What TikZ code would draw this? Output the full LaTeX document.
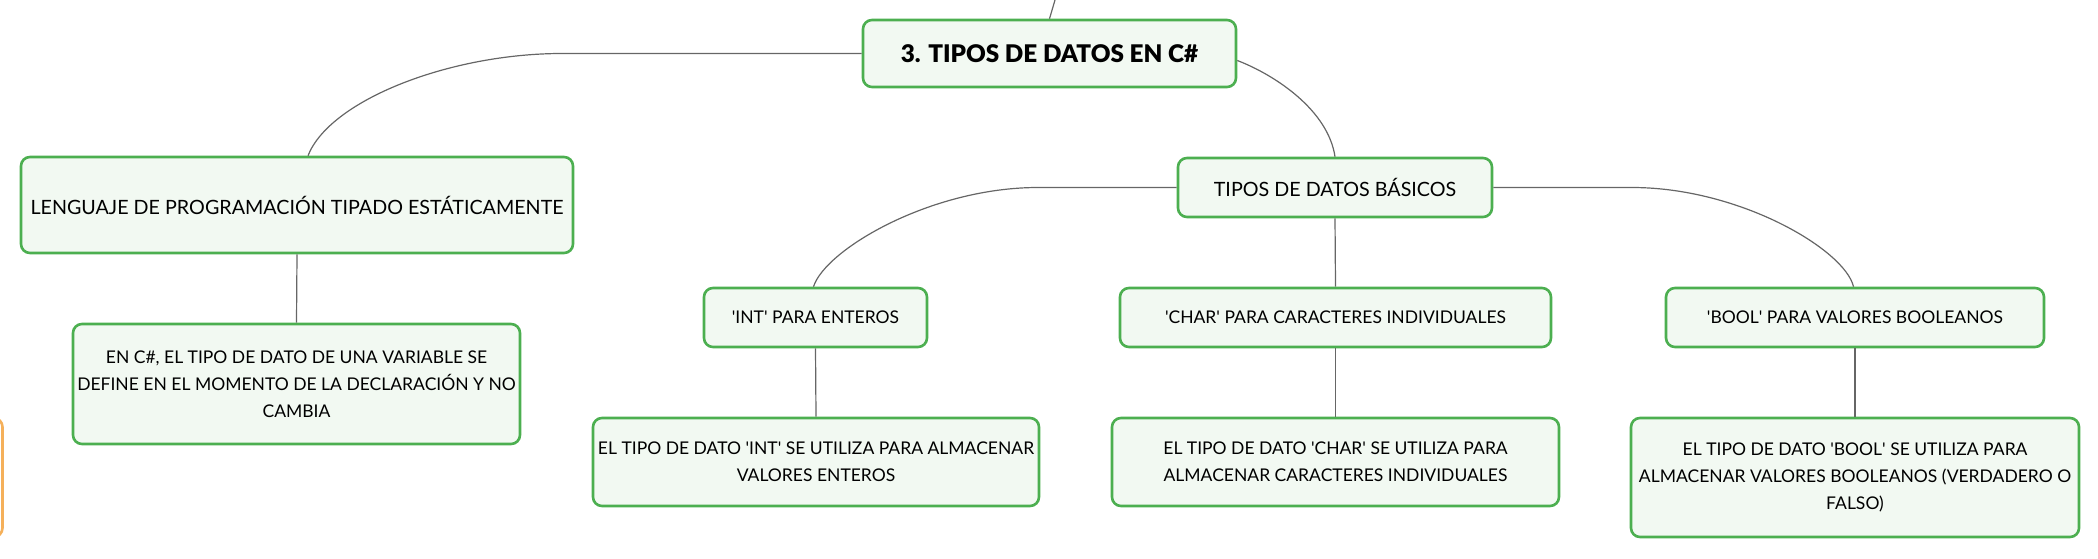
\documentclass[tikz,border=0pt]{standalone}
\usepackage{fontspec}
\setmainfont{Lato}
\newfontfamily\titlefont{Lato Black}
\usetikzlibrary{calc}
\definecolor{boxgreen}{HTML}{4CAF50}
\definecolor{boxfill}{HTML}{F2F9F2}
\definecolor{linegray}{HTML}{666666}
\definecolor{orangeb}{HTML}{F5B05A}
\newcommand{\sq}{\textquotesingle}
\tikzset{
  mbox/.style={draw=boxgreen, line width=2.6pt, rounded corners=9pt, fill=boxfill,
    align=center, inner sep=0pt, font=\fontsize{17.5}{27}\selectfont},
  bigtext/.style={font=\fontsize{19.7}{27}\selectfont},
  conn/.style={draw=linegray, line width=1.2pt}
}
\begin{document}
\begin{tikzpicture}[x=1pt,y=-1pt]
\useasboundingbox (0,0) rectangle (2098,559);
\begin{scope}
\clip (0,0) rectangle (2098,559);
\draw[draw=orangeb, line width=2.6pt, rounded corners=9pt] (-300,418) rectangle (2.5,537);
\end{scope}
\node[mbox, minimum width=373pt, minimum height=67pt, font=\fontsize{24.3}{32}\selectfont\titlefont] (root) at (1049.5,53.5) {3. TIPOS DE DATOS EN C\#};
\node[mbox, bigtext, minimum width=552pt, minimum height=96pt] (lang) at (297,205) {LENGUAJE DE PROGRAMACIÓN TIPADO ESTÁTICAMENTE};
\node[mbox, minimum width=447pt, minimum height=120pt] (encs) at (296.5,384) {EN C\#, EL TIPO DE DATO DE UNA VARIABLE SE\\DEFINE EN EL MOMENTO DE LA DECLARACIÓN Y NO\\CAMBIA};
\node[mbox, bigtext, minimum width=314pt, minimum height=59pt] (tipos) at (1335,187.5) {TIPOS DE DATOS BÁSICOS};
\node[mbox, minimum width=223pt, minimum height=59pt] (int) at (815.5,317.5) {\sq INT\sq{} PARA ENTEROS};
\node[mbox, minimum width=446pt, minimum height=88pt] (intd) at (816,462) {EL TIPO DE DATO \sq INT\sq{} SE UTILIZA PARA ALMACENAR\\VALORES ENTEROS};
\node[mbox, minimum width=431pt, minimum height=59pt] (char) at (1335.5,317.5) {\sq CHAR\sq{} PARA CARACTERES INDIVIDUALES};
\node[mbox, minimum width=447pt, minimum height=88pt] (chard) at (1335.5,462) {EL TIPO DE DATO \sq CHAR\sq{} SE UTILIZA PARA\\ALMACENAR CARACTERES INDIVIDUALES};
\node[mbox, minimum width=378pt, minimum height=59pt] (bool) at (1855,317.5) {\sq BOOL\sq{} PARA VALORES BOOLEANOS};
\node[mbox, minimum width=448pt, minimum height=119pt] (boold) at (1855,477.5) {EL TIPO DE DATO \sq BOOL\sq{} SE UTILIZA PARA\\ALMACENAR VALORES BOOLEANOS (VERDADERO O\\FALSO)};
\coordinate (topend) at (1055,0);
\draw[conn] (topend) -- (root.north);
\draw[conn] (root.west) -- (562,53.5) .. controls (450,53.5) and (330,100) .. ($(lang.north)+(11,0)$);
\draw[conn] ($(root.east)+(0,7)$) .. controls (1275,75) and (1328,110) .. (tipos.north);
\draw[conn] (tipos.west) -- (1038,187.5) .. controls (930,187.5) and (825,250) .. ($(int.north)+(-2,0)$);
\draw[conn] (tipos.east) -- (1632,187.5) .. controls (1740,187.5) and (1845,250) .. ($(bool.north)+(-1.5,0)$);
\draw[conn] (tipos.south) -- (char.north);
\draw[conn] (lang.south) -- (encs.north);
\draw[conn] (int.south) -- (intd.north);
\draw[conn] (char.south) -- (chard.north);
\draw[conn] (bool.south) -- (boold.north);
\end{tikzpicture}
\end{document}
